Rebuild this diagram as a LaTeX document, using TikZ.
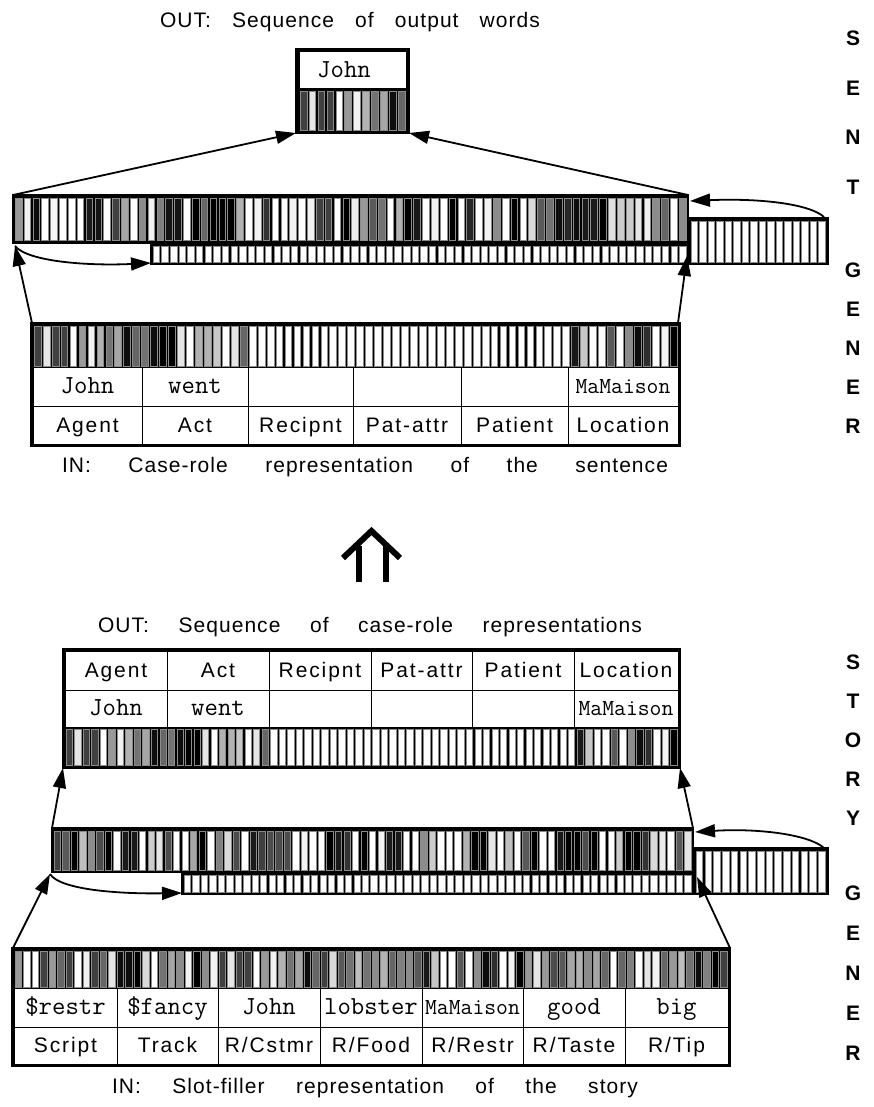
\documentclass[tikz,border=0pt]{standalone}
\usepackage{fontspec}
\setmainfont{Liberation Sans}
\usetikzlibrary{arrows.meta}

\newcommand{\labfont}{\fontsize{21}{24}\selectfont\addfontfeature{LetterSpace=9}}
\newcommand{\wordfont}{\ttfamily\fontsize{26}{28}\selectfont}
\newcommand{\mmfont}{\ttfamily\fontsize{23}{25}\selectfont}
\newcommand{\titlefont}{\fontsize{21}{24}\selectfont\addfontfeature{LetterSpace=5}}
\newcommand{\sidefont}{\bfseries\fontsize{21}{24}\selectfont}

\def\pJohn{75,10,75,75,0,40,5,30,55,35,95,60}
\def\pWent{55,95,100,100,10,0,30,30,22,0,10,60}
\def\pNone{0,0,0,0,0,0,0,0,0,0,0,0}
\def\pMaMaison{90,22,0,0,65,0,45,95,82,0,5,100}
\def\pRestr{40,0,0,75,40,60,75,0,5,75,60,10}
\def\pFancy{95,95,100,15,0,55,35,45,5,100,45,5}
\def\pLobster{75,15,65,55,25,55,45,30,60,50,45,65}
\def\pGood{40,10,40,70,65,35,30,45,35,60,0,60}
\def\pBig{50,0,10,5,60,40,25,55,95,50,100,75}
\edef\pCase{\pJohn,\pWent,\pNone,\pNone,\pNone,\pMaMaison}
\edef\pSlot{\pRestr,\pFancy,\pJohn,\pLobster,\pMaMaison,\pGood,\pBig}
\def\pHidA{40,5,95,0,3,0,0,0,90,92,0,75,35,0,45,5,50,92,92,0,100,60,100,100,100,30,0,5,80,0,0,5,0,5,75,75,0,100,8,40,65,55,0,30,100,90,0,5,0,100,0,85,0,5,45,0,100,0,15,65,55,95,85,95,90,90,100,12,20,20,10,5,45,60,0,45}
\def\pHidB{75,65,100,25,45,70,100,0,90,90,0,20,10,70,0,0,35,100,0,50,15,70,0,90,75,70,70,70,0,5,0,0,100,90,80,0,100,0,5,90,90,0,0,45,20,0,0,0,30,100,100,10,0,25,0,65,100,0,0,90,100,100,70,100,0,0,20,100,100,80,15,8,0,65,10}

% x0 y0 x1 y1 n list-macro
\newcommand{\barrow}[6]{%
  \fill[black] (#1,#2) rectangle (#3,#4);
  \pgfmathsetmacro\bw{(#3-#1)/#5}%
  \foreach \g [count=\i from 0] in #6 {%
    \filldraw[barcell, fill=black!\g] ({#1+\i*\bw+1.1},{#2+1}) rectangle ({#1+(\i+1)*\bw-1.1},{#4-1});
  }%
}
\newcommand{\whitebars}[5]{%
  \fill[black] (#1,#2) rectangle (#3,#4);
  \pgfmathsetmacro\bw{(#3-#1)/#5}%
  \pgfmathtruncatemacro\nl{#5-1}%
  \foreach \i in {0,...,\nl} {%
    \filldraw[barcell, fill=white] ({#1+\i*\bw+1.1},{#2+1}) rectangle ({#1+(\i+1)*\bw-1.1},{#4-1});
  }%
}
% name x0 y0 x1 y1 text style
\newcommand{\cellbox}[7]{%
  \draw[cell] (#2,#3) rectangle (#4,#5);
  \node[#7, anchor=base] (#1) at ({(#2+#4)/2},{(#3+#5)/2+7}) {#6};
}

\tikzset{
  conn/.style={line width=1.8pt, -{Triangle[length=20pt,width=13pt]}},
  barcell/.style={draw=black!45, line width=0.5pt},
  cell/.style={draw=black, line width=1pt, fill=white},
  lab/.style={font=\labfont, inner sep=0pt},
  word/.style={font=\wordfont, inner sep=0pt},
  mword/.style={font=\mmfont, inner sep=0pt},
  title/.style={font=\titlefont, inner sep=0pt},
  side/.style={font=\sidefont, inner sep=0pt},
  bigup/.style={line width=6pt},
}

\begin{document}
\begin{tikzpicture}[x=1pt,y=-1pt]
\useasboundingbox (0,0) rectangle (873,1107);
\fill[white] (0,0) rectangle (873,1107);

% ---------------- titles ----------------
\node[title] (t1) at (350,22) {\makebox[380pt][s]{OUT: Sequence of output words}};
\node[title] (t2) at (365,467) {\makebox[606pt][s]{IN: Case-role representation of the sentence}};
\node[title] (t3) at (370,627) {\makebox[544pt][s]{OUT: Sequence of case-role representations}};
\node[title] (t4) at (375,1088) {\makebox[526pt][s]{IN: Slot-filler representation of the story}};

% ---------------- side letters ----------------
\foreach \c/\yy [count=\k] in {S/38,E/88,N/137,T/187,G/270,E/309,N/348,E/387,R/426}
  \node[side] (sa\k) at (853,\yy) {\c};
\foreach \c/\yy [count=\k] in {S/662,T/701,O/740,R/779,Y/818,G/893,E/933,N/973,E/1013,R/1053}
  \node[side] (sb\k) at (853,\yy) {\c};

% ================= SENTENCE GENERATOR =================
% output word box
\fill[black] (295,48) rectangle (410,134);
\draw[cell] (299,52) rectangle (406,89);
\node[word, anchor=base] (ow) at (344,78) {John};
\barrow{299}{90}{406}{131}{12}{\pJohn}

% hidden layer
\fill[black] (12,194) rectangle (689,244);
\barrow{14}{197}{687}{241}{76}{\pHidA}
% context layer
\fill[black] (150,243) rectangle (689,265);
\whitebars{152}{245}{687}{263}{62}
\fill[black] (687,217) rectangle (829,265);
\whitebars{690}{220}{826}{263}{16}

% input case-role
\fill[black] (30,322) rectangle (681,447);
\barrow{33}{325}{678}{367}{72}{\pCase}
\cellbox{aw1}{33}{367}{142}{406}{John}{word}
\cellbox{aw2}{142}{367}{248}{406}{went}{word}
\cellbox{aw3}{248}{367}{353}{406}{}{word}
\cellbox{aw4}{353}{367}{461}{406}{}{word}
\cellbox{aw5}{461}{367}{568}{406}{}{word}
\cellbox{aw6}{568}{367}{678}{406}{MaMaison}{mword}
\cellbox{al1}{33}{406}{142}{444}{Agent}{lab}
\cellbox{al2}{142}{406}{248}{444}{Act}{lab}
\cellbox{al3}{248}{406}{353}{444}{Recipnt}{lab}
\cellbox{al4}{353}{406}{461}{444}{Pat-attr}{lab}
\cellbox{al5}{461}{406}{568}{444}{Patient}{lab}
\cellbox{al6}{568}{406}{678}{444}{Location}{lab}

% connectors
\coordinate (outBL) at (296,133);
\coordinate (outBR) at (409,133);
\coordinate (hidTL) at (13,195);
\coordinate (hidTR) at (688,195);
\coordinate (hidBL) at (15,246);
\coordinate (ctxL) at (151,263);
\coordinate (ctxR) at (687,256);
\coordinate (prevTR) at (824,217);
\coordinate (hidR) at (690,201);
\coordinate (inTL) at (32,323);
\coordinate (inTR) at (678,323);
\draw[conn] (hidTL) -- (outBL);
\draw[conn] (hidTR) -- (outBR);
\draw[conn] (inTL) -- (hidBL);
\draw[conn] (inTR) -- (ctxR);
\draw[conn] (hidBL) .. controls (28,262) and (90,266) .. (ctxL);
\draw[conn] (prevTR) .. controls (810,204) and (760,198) .. (hidR);

% ================= big arrow =================
\draw[bigup] (343,558) -- (371.5,531) -- (400,558);
\draw[bigup] (359,546) -- (359,582);
\draw[bigup] (385.5,546) -- (385.5,582);

% ================= STORY GENERATOR =================
% output case-role
\fill[black] (62,648) rectangle (681,769);
\cellbox{bl1}{65}{651}{167}{690}{Agent}{lab}
\cellbox{bl2}{167}{651}{269}{690}{Act}{lab}
\cellbox{bl3}{269}{651}{371}{690}{Recipnt}{lab}
\cellbox{bl4}{371}{651}{472}{690}{Pat-attr}{lab}
\cellbox{bl5}{472}{651}{574}{690}{Patient}{lab}
\cellbox{bl6}{574}{651}{678}{690}{Location}{lab}
\cellbox{bw1}{65}{690}{167}{727}{John}{word}
\cellbox{bw2}{167}{690}{269}{727}{went}{word}
\cellbox{bw3}{269}{690}{371}{727}{}{word}
\cellbox{bw4}{371}{690}{472}{727}{}{word}
\cellbox{bw5}{472}{690}{574}{727}{}{word}
\cellbox{bw6}{574}{690}{678}{727}{MaMaison}{mword}
\barrow{65}{728}{678}{766}{72}{\pCase}

% hidden layer
\fill[black] (51,827) rectangle (694,873);
\barrow{53}{830}{692}{871}{75}{\pHidB}
% context
\fill[black] (181,871) rectangle (694,895);
\whitebars{183}{874}{692}{893}{60}
\fill[black] (692,847) rectangle (829,895);
\whitebars{695}{850}{826}{893}{15}

% input slot-filler
\fill[black] (11,947) rectangle (731,1067);
\barrow{14}{950}{728}{988}{84}{\pSlot}
\cellbox{cw1}{14}{988}{117}{1027}{\$restr}{word}
\cellbox{cw2}{117}{988}{218}{1027}{\$fancy}{word}
\cellbox{cw3}{218}{988}{320}{1027}{John}{word}
\cellbox{cw4}{320}{988}{422}{1027}{lobster}{word}
\cellbox{cw5}{422}{988}{523}{1027}{MaMaison}{mword}
\cellbox{cw6}{523}{988}{625}{1027}{good}{word}
\cellbox{cw7}{625}{988}{728}{1027}{big}{word}
\cellbox{cl1}{14}{1027}{117}{1064}{Script}{lab}
\cellbox{cl2}{117}{1027}{218}{1064}{Track}{lab}
\cellbox{cl3}{218}{1027}{320}{1064}{R/Cstmr}{lab}
\cellbox{cl4}{320}{1027}{422}{1064}{R/Food}{lab}
\cellbox{cl5}{422}{1027}{523}{1064}{R/Restr}{lab}
\cellbox{cl6}{523}{1027}{625}{1064}{R/Taste}{lab}
\cellbox{cl7}{625}{1027}{728}{1064}{R/Tip}{lab}

% connectors
\coordinate (crBL) at (63,768);
\coordinate (crBR) at (680,768);
\coordinate (hbTL) at (52,828);
\coordinate (hbTR) at (693,828);
\coordinate (hbBL) at (50,874);
\coordinate (cbL) at (182,893);
\coordinate (cbR) at (697,877);
\coordinate (pbTR) at (824,848);
\coordinate (hbR) at (695,832);
\coordinate (sfTL) at (13,948);
\coordinate (sfTR) at (730,948);
\draw[conn] (hbTL) -- (crBL);
\draw[conn] (hbTR) -- (crBR);
\draw[conn] (sfTL) -- (hbBL);
\draw[conn] (sfTR) -- (cbR);
\draw[conn] (hbBL) .. controls (60,890) and (120,894) .. (cbL);
\draw[conn] (pbTR) .. controls (810,835) and (760,828) .. (hbR);
\end{tikzpicture}
\end{document}
